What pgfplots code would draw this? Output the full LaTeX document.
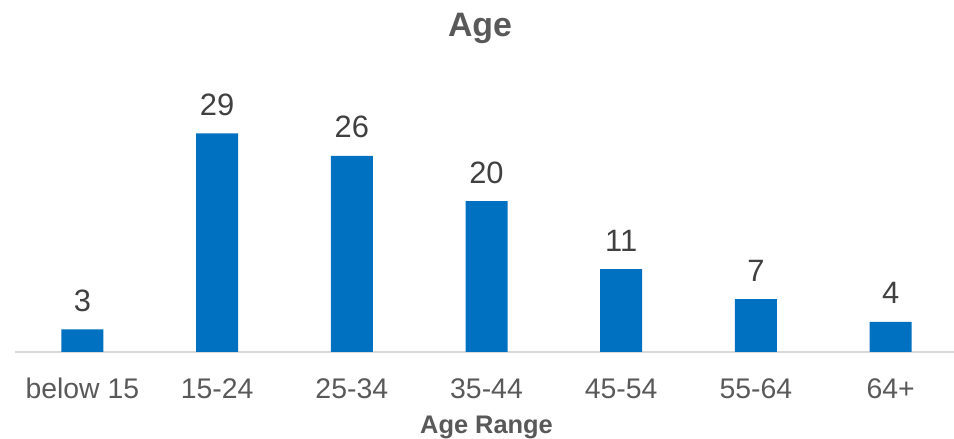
\documentclass[border=0pt]{standalone}
\usepackage{pgfplots}
\pgfplotsset{compat=1.18}
\usepackage{fontspec}
\setmainfont{Liberation Sans}
\definecolor{barblue}{HTML}{0070C0}
\definecolor{txtgray}{HTML}{595959}
\definecolor{lblgray}{HTML}{404040}
\definecolor{axgray}{HTML}{D9D9D9}
\begin{document}
\begin{tikzpicture}
\useasboundingbox (0,0) rectangle (954bp,439bp);
\begin{axis}[
  at={(15bp,87bp)}, anchor=south west,
  scale only axis, width=943bp, height=264bp,
  xmin=-0.5, xmax=6.5, ymin=0, ymax=35,
  axis x line*=bottom, hide y axis,
  x axis line style={draw=axgray, line width=1.3pt, -},
  xtick=data,
  xticklabels={below 15,15-24,25-34,35-44,45-54,55-64,64+},
  xtick style={draw=none},
  xticklabel style={font=\fontsize{28.5}{32}\selectfont, text=txtgray, anchor=base, yshift=-42bp},
  /pgf/number format/assume math mode=true,
  ybar, bar width=42bp,
  nodes near coords,
  nodes near coords style={font=\fontsize{31}{34}\selectfont, text=lblgray, anchor=base, inner sep=0pt, yshift=18bp},
  clip=false,
]
\addplot[fill=barblue, draw=none] coordinates {(0,3) (1,29) (2,26) (3,20) (4,11) (5,7) (6,4)};
\end{axis}
\node[anchor=base, font=\bfseries\fontsize{34}{38}\selectfont, text=txtgray] at (480bp,402bp) {Age};
\node[anchor=base, font=\bfseries\fontsize{25.5}{29}\selectfont, text=txtgray] at (486.5bp,6bp) {Age Range};
\end{tikzpicture}
\end{document}
